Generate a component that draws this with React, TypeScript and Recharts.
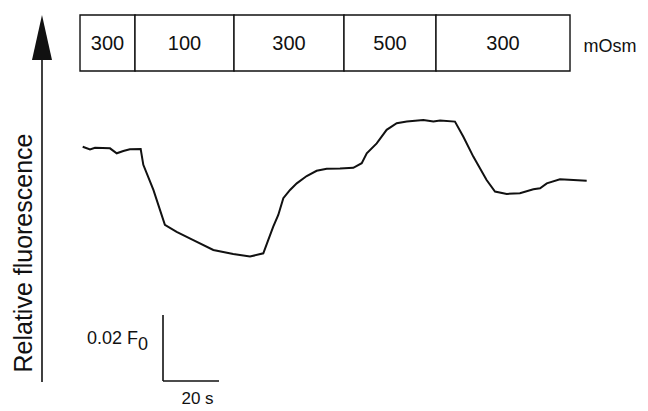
import React from "react";
import { LineChart, Line, XAxis, YAxis, ReferenceArea, ReferenceLine, ReferenceDot } from "recharts";

// Trace: time (s) and relative fluorescence (F/F0)
const TIME_S = [0.25, 2.86, 4.64, 10.0, 12.4, 14.75, 17.1, 20.96, 21.9, 25.5, 29.6, 33.8, 39.75, 46.9, 54.0, 60.0, 64.75, 66.5, 68.3, 70.1, 71.9, 74.3, 76.7, 80.25, 83.8, 87.4, 92.14, 96.9, 99.9, 101.7, 105.25, 108.8, 112.4, 116.0, 121.9, 125.5, 127.9, 133.2, 136.2, 139.75, 144.5, 147.5, 151.7, 156.4, 161.2, 163.6, 166.0, 170.7, 175.5, 180.25];
const FLUOR = [1.0007, 0.9999, 1.0004, 1.0002, 0.9987, 0.9994, 0.9999, 1.0, 0.9952, 0.9876, 0.977, 0.9749, 0.9724, 0.9694, 0.9682, 0.9674, 0.9684, 0.9724, 0.9765, 0.98, 0.9851, 0.9876, 0.9896, 0.9918, 0.9934, 0.994, 0.9941, 0.9943, 0.9957, 0.9987, 1.0017, 1.0058, 1.0078, 1.0083, 1.0088, 1.0083, 1.0086, 1.0083, 1.0037, 0.9977, 0.9906, 0.9871, 0.9864, 0.9866, 0.9878, 0.9881, 0.9896, 0.9908, 0.9906, 0.9904];

// Osmolarity periods
const OSM_LABELS = ["300", "100", "300", "500", "300"];
const OSM_STARTS = [-0.71, 18.93, 54.29, 93.57, 126.43];
const OSM_ENDS = [18.93, 54.29, 93.57, 126.43, 174.29];
const OSM_UNIT = "mOsm";

// Scale bar
const SCALE_F = 0.02;
const SCALE_T = 20;
const SCALE_F_LABEL = "0.02 F";
const SCALE_T_LABEL = "20 s";
const Y_LABEL = "Relative fluorescence";

const X_DOMAIN: [number, number] = [-29.2857, 202.1429];
const Y_DOMAIN: [number, number] = [0.92061, 1.04515];

const BOX_TOP = 1.04061;
const BOX_BOTTOM = 1.02364;
const ARROW_T = -14.286;
const ARROW_TIP = 1.04061;
const ARROW_BASE = 1.02697;
const ARROW_END = 0.92939;
const SB_T0 = 28.93;
const SB_F0 = 0.9297;

const FONT = "'Liberation Sans', Arial, Helvetica, sans-serif";

const data = TIME_S.map((t, i) => ({ t, f: FLUOR[i] }));

export default function App() {
  return (
    <div style={{ position: "absolute", left: 0, top: 0, width: 648, height: 411, background: "#fff" }}>
      <LineChart width={648} height={411} data={data} margin={{ top: 0, right: 0, bottom: 0, left: 0 }}>
        <XAxis type="number" dataKey="t" domain={X_DOMAIN} hide allowDataOverflow />
        <YAxis type="number" domain={Y_DOMAIN} hide allowDataOverflow />
        {OSM_LABELS.map((lab, i) => (
          <ReferenceArea
            key={i}
            x1={OSM_STARTS[i]}
            x2={OSM_ENDS[i]}
            y1={BOX_BOTTOM}
            y2={BOX_TOP}
            fill="#fff"
            fillOpacity={1}
            stroke="#111"
            strokeWidth={1.4}
            label={{ value: lab, position: "center", fontSize: 20, fill: "#111", fontFamily: FONT }}
          />
        ))}
        <ReferenceDot
          x={188.6}
          y={1.0312}
          r={0}
          shape={(p: any) => (
            <text x={p.cx} y={p.cy} textAnchor="middle" dominantBaseline="central" fontSize={18} fill="#111" fontFamily={FONT}>
              {OSM_UNIT}
            </text>
          )}
        />
        <ReferenceLine segment={[{ x: ARROW_T, y: ARROW_BASE }, { x: ARROW_T, y: ARROW_END }]} stroke="#111" strokeWidth={1.6} />
        <ReferenceDot
          x={ARROW_T}
          y={ARROW_TIP}
          r={0}
          shape={(p: any) => (
            <polygon points={`${p.cx},${p.cy} ${p.cx - 10},${p.cy + 45} ${p.cx + 10},${p.cy + 45}`} fill="#111" />
          )}
        />
        <ReferenceDot
          x={-17.86}
          y={0.96848}
          r={0}
          shape={(p: any) => (
            <text
              x={p.cx}
              y={p.cy}
              textAnchor="middle"
              transform={`rotate(-90 ${p.cx} ${p.cy})`}
              fontSize={25}
              fill="#111"
              fontFamily={FONT}
            >
              {Y_LABEL}
            </text>
          )}
        />
        <ReferenceLine segment={[{ x: SB_T0, y: SB_F0 }, { x: SB_T0, y: SB_F0 + SCALE_F }]} stroke="#111" strokeWidth={1.6} />
        <ReferenceLine segment={[{ x: SB_T0, y: SB_F0 }, { x: SB_T0 + SCALE_T, y: SB_F0 }]} stroke="#111" strokeWidth={1.6} />
        <ReferenceDot
          x={23.57}
          y={0.9409}
          r={0}
          shape={(p: any) => (
            <text x={p.cx} y={p.cy} textAnchor="end" fontSize={18} fill="#111" fontFamily={FONT}>
              {SCALE_F_LABEL}
              <tspan dy={6}>0</tspan>
            </text>
          )}
        />
        <ReferenceDot
          x={41.25}
          y={0.92273}
          r={0}
          shape={(p: any) => (
            <text x={p.cx} y={p.cy} textAnchor="middle" fontSize={17} fill="#111" fontFamily={FONT}>
              {SCALE_T_LABEL}
            </text>
          )}
        />
        <Line type="linear" dataKey="f" stroke="#111" strokeWidth={2} dot={false} activeDot={false} isAnimationActive={false} />
      </LineChart>
    </div>
  );
}
